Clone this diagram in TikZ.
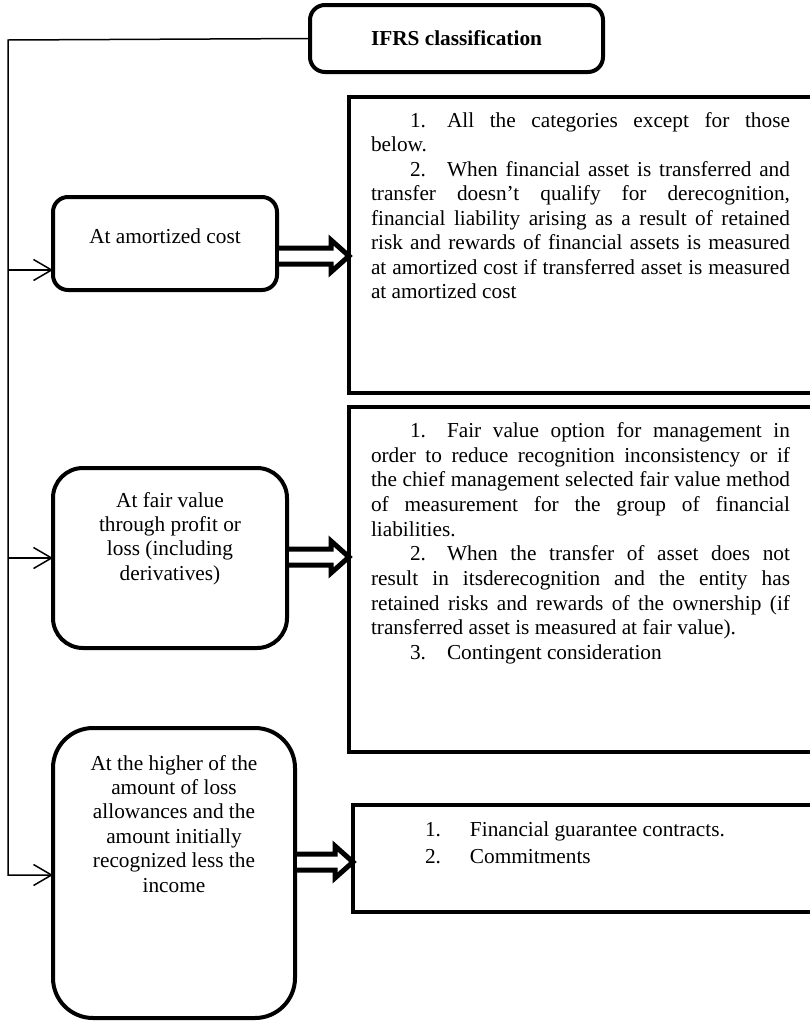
\documentclass[tikz,border=0pt]{standalone}
\usepackage{fontspec}
\setmainfont{Liberation Serif}
\usetikzlibrary{arrows.meta,calc}
% one justified line and one closing (ragged) line of a rule paragraph
\newcommand\jusln[1]{\makebox[419pt][s]{\strut#1}}
\newcommand\lastln[1]{\makebox[419pt][l]{\strut#1}}
% indented item number followed by a tab stop
\newcommand\itemno[1]{\hspace*{39pt}\makebox[37pt][l]{#1}}
% outlined block arrow: #1 start at the left box, #2 tip at the right box
\newcommand\dblarrow[2]{%
  \draw[dbl] ($(#1)+(0,-8)$) -- ($(#2)+(-18,-8)$) -- ($(#2)+(-18,-16)$) -- (#2)
    -- ($(#2)+(-18,16)$) -- ($(#2)+(-18,8)$) -- ($(#1)+(0,8)$);}
\begin{document}
\begin{tikzpicture}[x=1pt,y=-1pt,
  every node/.style={inner sep=0pt, outer sep=0pt},
  txt/.style={font=\fontsize{21.3}{24.5}\selectfont},
  headbox/.style={draw, line width=4pt, rounded corners=15pt,
    minimum width=293pt, minimum height=67pt,
    font=\bfseries\fontsize{21.3}{24.5}\selectfont},
  kindbox/.style={draw, line width=4pt, anchor=north west},
  rulebox/.style={draw, line width=4pt, anchor=north west},
  kindtext/.style={txt, align=center, anchor=north},
  ruletext/.style={txt, align=left, anchor=north west},
  spine/.style={line width=1.5pt},
  feed/.style={spine, -{Straight Barb[length=18pt,width=21pt]}},
  dbl/.style={line width=5pt, fill=white, line join=miter}]

\useasboundingbox (0,0) rectangle (810,1021);

% rule boxes on the right, running off the right edge
\begin{scope}
  \clip (0,0) rectangle (810,1021);
  \node[rulebox, minimum width=490pt, minimum height=296pt] (rone) at (349,97) {};
  \node[rulebox, minimum width=490pt, minimum height=345pt] (rtwo) at (349,407) {};
  \node[rulebox, minimum width=490pt, minimum height=107pt] (rthree) at (353,805) {};
\end{scope}

% classification boxes on the left
\node[kindbox, rounded corners=15pt, minimum width=224pt, minimum height=93pt] (amort) at (53,197) {};
\node[kindbox, rounded corners=30pt, minimum width=234pt, minimum height=180pt] (fvpl) at (53,468) {};
\node[kindbox, rounded corners=40pt, minimum width=242pt, minimum height=290pt] (higher) at (53,728) {};

% heading
\node[headbox] (ifrs) at (456.5,38.5) {IFRS classification};

% levels of the feed arrows and of the block arrows
\coordinate (corner) at (8,40);
\coordinate (jA) at (8,270);
\coordinate (jB) at (8,558);
\coordinate (jC) at (8,875);
\coordinate (hA) at (0,256);
\coordinate (hB) at (0,557);
\coordinate (hC) at (0,862);

% block arrows from each class to its rules
\coordinate (sA) at ($(amort.east |- hA)+(2,0)$);
\coordinate (tA) at (rone.west |- hA);
\coordinate (sB) at ($(fvpl.east |- hB)+(2,0)$);
\coordinate (tB) at (rtwo.west |- hB);
\coordinate (sC) at ($(higher.east |- hC)+(2,0)$);
\coordinate (tC) at (rthree.west |- hC);
\dblarrow{sA}{tA}
\dblarrow{sB}{tB}
\dblarrow{sC}{tC}

% feed line from the heading to the three classes
\draw[feed] (ifrs.west) -- (corner) -- (jC) -- (jC -| higher.west);
\draw[feed] (jA) -- (jA -| amort.west);
\draw[feed] (jB) -- (jB -| fvpl.west);

% class labels
\node[kindtext, anchor=base] (amortText) at (165,243) {At amortized cost};
\node[kindtext, font=\fontsize{21.3}{24.4}\selectfont] (fvplText) at (170,490)
  {\strut At fair value\\through profit or\\loss (including\\derivatives)};
\node[kindtext, font=\fontsize{21.3}{24.4}\selectfont] (higherText) at (174,753)
  {\strut At the higher of the\\amount of loss\\allowances and the\\amount initially\\recognized less the\\income};

% rule texts
\node[ruletext] (roneText) at (371,110) {%
  \jusln{\itemno{1.}All the categories except for those}\\
  \lastln{below.}\\
  \jusln{\itemno{2.}When financial asset is transferred and}\\
  \jusln{transfer doesn’t qualify for derecognition,}\\
  \jusln{financial liability arising as a result of retained}\\
  \jusln{risk and rewards of financial assets is measured}\\
  \jusln{at amortized cost if transferred asset is measured}\\
  \lastln{at amortized cost}};

\node[ruletext, font=\fontsize{21.3}{24.7}\selectfont] (rtwoText) at (371,420) {%
  \jusln{\itemno{1.}Fair value option for management in}\\
  \jusln{order to reduce recognition inconsistency or if}\\
  \jusln{the chief management selected fair value method}\\
  \jusln{of measurement for the group of financial}\\
  \lastln{liabilities.}\\
  \jusln{\itemno{2.}When the transfer of asset does not}\\
  \jusln{result in itsderecognition and the entity has}\\
  \jusln{retained risks and rewards of the ownership (if}\\
  \lastln{transferred asset is measured at fair value).}\\
  \lastln{\itemno{3.}Contingent consideration}};

\node[ruletext, font=\fontsize{21.3}{27}\selectfont] (rthreeText) at (425,818)
  {\strut\makebox[45pt][l]{1.}Financial guarantee contracts.\\
   \strut\makebox[45pt][l]{2.}Commitments};

\end{tikzpicture}
\end{document}
